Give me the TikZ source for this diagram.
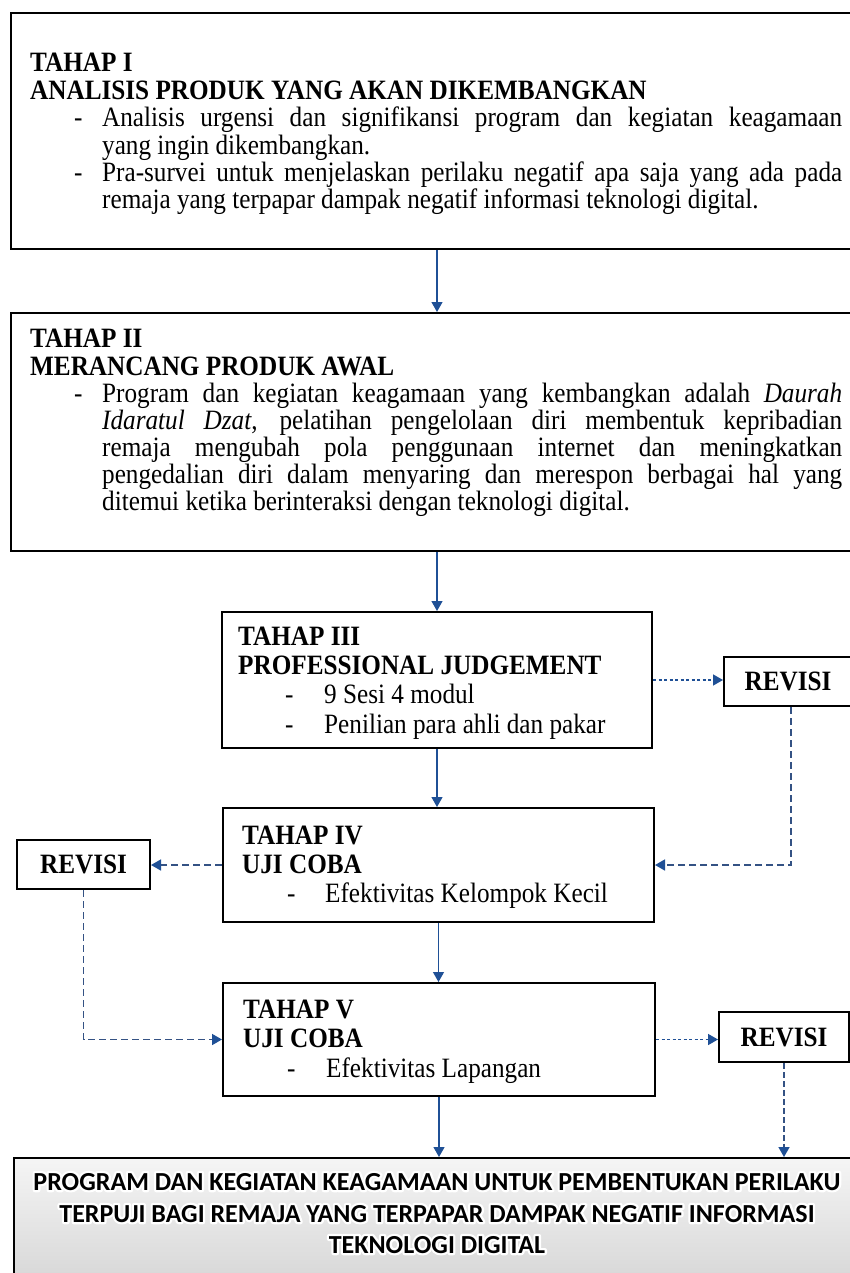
\documentclass[tikz,border=0pt]{standalone}
\usepackage{fontspec}
\setmainfont{Liberation Serif}[FakeStretch=0.9]
\newfontfamily\calib{Carlito}
\usetikzlibrary{arrows.meta}
\definecolor{ablue}{RGB}{31,80,150}
\definecolor{dblue}{RGB}{52,82,132}
\newcommand\glowtext[1]{\rlap{\color{white}\special{pdf:literal direct 1 j 4.5 w 2 Tr}#1\special{pdf:literal direct 0 Tr}}#1}
\begin{document}
\begin{tikzpicture}[x=1pt,y=-1pt,
  box/.style={draw=black, line width=2pt, inner sep=0pt, anchor=north west},
  hd/.style={anchor=base west, inner sep=0pt, font=\bfseries\fontsize{28}{30}\selectfont},
  tx/.style={anchor=base west, inner sep=0pt, font=\fontsize{28}{30}\selectfont},
  revbox/.style={box, font=\bfseries\fontsize{28}{30}\selectfont, minimum height=49pt},
  fintext/.style={anchor=base, inner sep=0pt, font=\calib\bfseries\fontsize{26}{30}\selectfont},
  flow/.style={draw=ablue, line width=1.2pt, -{Triangle[length=10pt,width=11pt]}},
  dotflow/.style={draw=ablue, line width=1.5pt, dash pattern=on 3pt off 2.5pt, -{Triangle[length=10pt,width=11pt]}},
  dashflow/.style={draw=dblue, line width=1.6pt, dash pattern=on 7pt off 4pt, -{Triangle[length=10pt,width=11pt,color=ablue]}},
  dashflowb/.style={draw=dblue, line width=1.5pt, dash pattern=on 6pt off 3pt, -{Triangle[length=10pt,width=11pt,color=ablue]}},
]
\useasboundingbox (0,0) rectangle (850,1273);
\fill[white] (0,0) rectangle (850,1273);

% ---------- boxes ----------
\node[box, minimum width=850pt, minimum height=236pt] (b1) at (10,12) {};
\node[box, minimum width=850pt, minimum height=238pt] (b2) at (10,312) {};
\node[box, minimum width=430pt, minimum height=136pt] (b3) at (221,611) {};
\node[box, minimum width=431pt, minimum height=114pt] (b4) at (222,807) {};
\node[box, minimum width=432pt, minimum height=113pt] (b5) at (222,982) {};
\node[revbox, minimum width=128pt] (r1) at (723,656) {REVISI};
\node[revbox, minimum width=133pt] (rL) at (16,839) {REVISI};
\node[revbox, minimum width=130pt, minimum height=50pt] (r3) at (718,1011) {REVISI};
\node[box, minimum width=850pt, minimum height=133pt, top color=gray!8, bottom color=gray!33] (fin) at (13,1157) {};

% ---------- texts box 1 ----------
\node[hd] (t1a) at (30,72) {TAHAP I};
\node[hd] (t1b) at (30,100) {ANALISIS PRODUK YANG AKAN DIKEMBANGKAN};
\node[tx] (t1c) at (74,127) {-};
\node[tx] (t1d) at (102,127) {\makebox[740pt][s]{Analisis urgensi dan signifikansi program dan kegiatan keagamaan}};
\node[tx] (t1e) at (102,154.5) {yang ingin dikembangkan.};
\node[tx] (t1f) at (74,182) {-};
\node[tx] (t1g) at (102,182) {\makebox[740pt][s]{Pra-survei untuk menjelaskan perilaku negatif apa saja yang ada pada}};
\node[tx] (t1h) at (102,209) {remaja yang terpapar dampak negatif informasi teknologi digital.};

% ---------- texts box 2 ----------
\node[hd] (t2a) at (30,347) {TAHAP II};
\node[hd] (t2b) at (30,375) {MERANCANG PRODUK AWAL};
\node[tx] (t2c) at (74,402) {-};
\node[tx] (t2d) at (102,402) {\makebox[740pt][s]{Program dan kegiatan keagamaan yang kembangkan adalah \textit{Daurah}}};
\node[tx] (t2e) at (102,429) {\makebox[740pt][s]{\textit{Idaratul Dzat}, pelatihan pengelolaan diri membentuk kepribadian}};
\node[tx] (t2f) at (102,456.5) {\makebox[740pt][s]{remaja mengubah pola penggunaan internet dan meningkatkan}};
\node[tx] (t2g) at (102,483) {\makebox[740pt][s]{pengedalian diri dalam menyaring dan merespon berbagai hal yang}};
\node[tx] (t2h) at (102,510) {ditemui ketika berinteraksi dengan teknologi digital.};

% ---------- texts box 3 ----------
\node[hd] (t3a) at (238,645) {TAHAP III};
\node[hd] (t3b) at (238,674) {PROFESSIONAL JUDGEMENT};
\node[tx] (t3c) at (285,703) {-};
\node[tx] (t3d) at (324,703) {9 Sesi 4 modul};
\node[tx] (t3e) at (285,733) {-};
\node[tx] (t3f) at (324,733) {Penilian para ahli dan pakar};

% ---------- texts box 4 ----------
\node[hd] (t4a) at (242,844) {TAHAP IV};
\node[hd] (t4b) at (242,873) {UJI COBA};
\node[tx] (t4c) at (287,902) {-};
\node[tx] (t4d) at (325,902) {Efektivitas Kelompok Kecil};

% ---------- texts box 5 ----------
\node[hd] (t5a) at (243,1018) {TAHAP V};
\node[hd] (t5b) at (243,1047) {UJI COBA};
\node[tx] (t5c) at (287,1077) {-};
\node[tx] (t5d) at (326,1077) {Efektivitas Lapangan};

% ---------- final text with white glow ----------
\node[fintext] (f1) at (437,1190) {\glowtext{PROGRAM DAN KEGIATAN KEAGAMAAN UNTUK PEMBENTUKAN PERILAKU}};
\node[fintext] (f2) at (437,1222) {\glowtext{TERPUJI BAGI REMAJA YANG TERPAPAR DAMPAK NEGATIF INFORMASI}};
\node[fintext] (f3) at (437,1253) {\glowtext{TEKNOLOGI DIGITAL}};

% ---------- connectors ----------
\draw[flow] (b1.south -| b3.north) -- (b2.north -| b3.north);
\draw[flow] (b2.south -| b3.north) -- (b3.north);
\draw[flow] (b3.south) -- (b3.south |- b4.north);
\draw[flow] (b4.south) -- (b4.south |- b5.north);
\draw[flow] (b5.south) -- (b5.south |- fin.north);
\draw[dotflow] (b3.east) -- (b3.east -| r1.west);
\draw[dashflow] ([xshift=3pt]r1.south) |- (b4.east);
\draw[dashflow] (b4.west) -- (b4.west -| rL.east);
\draw[dashflow] (rL.south) |- (b5.west);
\draw[dotflow] (b5.east) -- (b5.east -| r3.west);
\draw[dashflowb] (r3.south) -- (r3.south |- fin.north);
\end{tikzpicture}
\end{document}
